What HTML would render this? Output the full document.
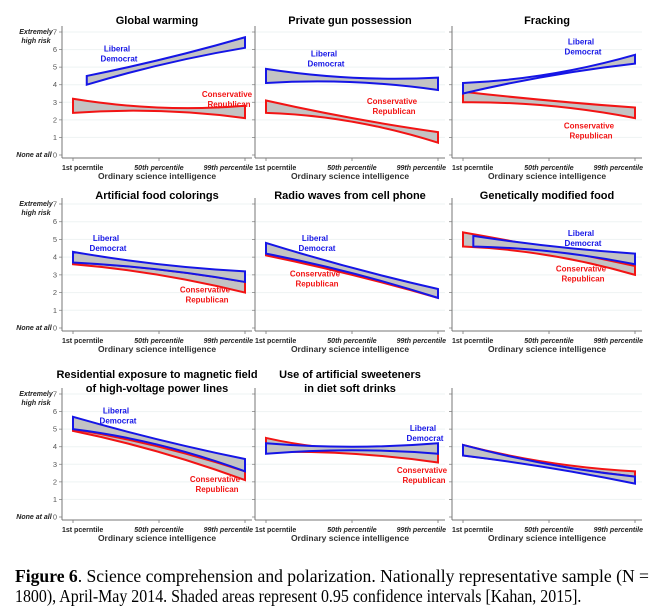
<!DOCTYPE html>
<html><head><meta charset="utf-8"><style>
html,body{margin:0;padding:0;background:#fff;}
body{width:659px;height:615px;overflow:hidden;position:relative;}
svg{position:absolute;left:0;top:0;}
.cap{position:absolute;left:15px;top:566px;width:644px;font-family:"Liberation Serif",serif;font-size:17.6px;line-height:20px;color:#000;white-space:nowrap;}
.l2{display:inline-block;transform:scaleX(0.905);transform-origin:0 50%;}
</style></head><body>
<svg id="fig" width="659" height="560" xmlns="http://www.w3.org/2000/svg" font-family="Liberation Sans, sans-serif"></svg>
<div class="cap"><b>Figure 6</b>. Science comprehension and polarization. Nationally representative sample (N =<br><span class="l2">1800), April-May 2014. Shaded areas represent 0.95 confidence intervals [Kahan, 2015].</span></div>
<script>
// Data: values at 1st, 50th, 99th percentile
const titles = [["Global warming"],["Private gun possession"],["Fracking"],["Artificial food colorings"],["Radio waves from cell phone"],["Genetically modified food"],["Residential exposure to magnetic field","of high-voltage power lines"],["Use of artificial sweeteners","in diet soft drinks"],[]];
const blueHi = [[4.5,5.5,6.7],[4.9,4.4,4.4],[4.1,4.6,5.7],[4.3,3.6,3.2],[4.8,3.4,2.2],[5.2,4.6,4.2],[5.7,4.4,3.3],[4.2,4.0,4.2],[4.1,3.0,2.3]];
const blueLo = [[4.0,5.2,6.1],[4.1,4.15,3.7],[3.5,4.5,5.2],[3.7,3.3,2.6],[4.2,3.1,1.7],[4.6,4.3,3.6],[5.0,4.1,2.6],[3.6,3.8,3.6],[3.5,2.8,1.9]];
const redHi = [[3.2,2.7,2.8],[3.1,2.1,1.3],[3.6,3.1,2.7],[3.7,3.3,2.6],[4.2,3.1,1.7],[5.4,4.5,3.5],[5.0,4.0,2.6],[4.5,3.85,4.1],[4.1,3.1,2.6]];
const redLo = [[2.4,2.5,2.1],[2.4,1.9,0.7],[3.0,2.8,2.1],[3.6,3.0,2.0],[4.1,3.0,1.7],[4.6,4.1,3.0],[4.9,3.7,2.1],[3.7,3.6,3.1],[3.5,2.9,2.3]];
const blueStart = [0.08,0,0,0,0,0.06,0,0,0];
const yTicks = [0,1,2,3,4,5,6,7];
const xTickLabels = ["1st pcerntile","50th percentile","99th percentile"];
// label placement [xOffsetFromAxis, yValue]
const libPos = [[55,5.9],[69,5.6],[129,6.3],[44,4.9],[60,4.9],[129,5.2],[54,5.9],[168,4.9],null];
const conPos = [[165,3.3],[137,2.9],[137,1.5],[143,2.0],[60,2.9],[129,3.2],[153,2.0],[167,2.5],null];

const svg=document.getElementById('fig');
const NS='http://www.w3.org/2000/svg';
const colX=[62,255,452];
const rowTop=[32,204,394], rowBot=[155,328,517];
const titleY=[[24],[199],[378,392]];
function el(t,a,p){const e=document.createElementNS(NS,t);for(const k in a)e.setAttribute(k,a[k]);(p||svg).appendChild(e);return e;}
function txt(s,a,p){const e=el('text',a,p);e.textContent=s;return e;}

for(let i=0;i<9;i++){
  const r=Math.floor(i/3), c=i%3;
  const ax=colX[c], yT=rowTop[r], yB=rowBot[r];
  const yS=v=>yB-(yB-yT)*v/7;
  const x0=ax+11, x1=ax+183;
  const xS=f=>x0+(x1-x0)*f;
  const g=el('g',{});
  
  
  yTicks.forEach(v=>{
    if(v>0){const gl=el('line',{x1:ax,x2:ax+190,y1:yS(v),y2:yS(v),stroke:'#eef3f3','stroke-width':1},g);}
    el('line',{x1:ax-3,x2:ax,y1:yS(v),y2:yS(v),stroke:'#888','stroke-width':0.8},g);
    if(c===0){const t=txt(String(v),{x:ax-5,y:yS(v)+2.5,'font-size':7.5,fill:'#555','text-anchor':'end'},g);}
  });
  const ya=el('line',{x1:ax,x2:ax,y1:yT-6,y2:yB+3,stroke:'#777','stroke-width':1},g);
  
  const xa=el('line',{x1:ax,x2:ax+190,y1:yB+3,y2:yB+3,stroke:'#777','stroke-width':1},g);
  
  [0,0.5,1].forEach((f,k)=>{
    el('line',{x1:xS(f),x2:xS(f),y1:yB+3,y2:yB+6,stroke:'#777','stroke-width':0.8},g);
    const anchor=['start','middle','end'][k];
    const tx=[x0-11,xS(0.5),x1+8][k];
    const t=txt(xTickLabels[k],{x:tx,y:yB+15,'font-size':7,'font-weight':'bold','font-style':k?'italic':'normal',fill:'#222','text-anchor':anchor},g);
    
  });
  const at=txt('Ordinary science intelligence',{x:ax+95,y:yB+24,'font-size':8.5,'font-weight':'bold',fill:'#333','text-anchor':'middle'},g);
  
  if(c===0){
    const l1=txt('Extremely',{x:36,y:yT+2,'font-size':7,'font-style':'italic','font-weight':'bold',fill:'#222','text-anchor':'middle'},g);
    
    const l2=txt('high risk',{x:36,y:yT+11,'font-size':7,'font-style':'italic','font-weight':'bold',fill:'#222','text-anchor':'middle'},g);
    
    const l3=txt('None at all',{x:34,y:yB+2,'font-size':7,'font-style':'italic','font-weight':'bold',fill:'#222','text-anchor':'middle'},g);
    
  }
  titles[i].forEach((s,k)=>{
    const t=txt(s,{x:ax+95,y:titleY[r][k],'font-size':11,'font-weight':'bold',fill:'#000','text-anchor':'middle'},g);
    
  });
  function curve(vals,fs,rev){
    const P=vals.map((v,k)=>[xS(fs[k]),yS(v)]);
    if(rev)P.reverse();
    const cx=2*P[1][0]-(P[0][0]+P[2][0])/2, cy=2*P[1][1]-(P[0][1]+P[2][1])/2;
    return {start:P[0],seg:'Q'+cx+','+cy+' '+P[2][0]+','+P[2][1]};
  }
  function band(hi,lo,col,start,name){
    const fs=[start,(start+1)/2,1];
    const a=curve(hi,fs,false), b=curve(lo,fs,true);
    const d='M'+a.start[0]+','+a.start[1]+' '+a.seg+' L'+b.start[0]+','+b.start[1]+' '+b.seg+' Z';
    const p=el('path',{d:d,fill:'#c3c3c3',stroke:col,'stroke-width':2,'stroke-linejoin':'miter'},g);
    
  }
  band(redHi[i],redLo[i],'#f21414',0,'conservative-band');
  band(blueHi[i],blueLo[i],'#1515e6',blueStart[i],'liberal-band');
  if(libPos[i]){
    const [lx,lv]=libPos[i];
    const a=txt('Liberal',{x:ax+lx,y:yS(lv),'font-size':8,'font-weight':'bold',fill:'#1515e6','text-anchor':'middle'},g);
    
    const b=txt('Democrat',{x:ax+lx+2,y:yS(lv)+10,'font-size':8,'font-weight':'bold',fill:'#1515e6','text-anchor':'middle'},g);
    
  }
  if(conPos[i]){
    const [cx,cv]=conPos[i];
    const a=txt('Conservative',{x:ax+cx,y:yS(cv),'font-size':8,'font-weight':'bold',fill:'#f21414','text-anchor':'middle'},g);
    
    const b=txt('Republican',{x:ax+cx+2,y:yS(cv)+10,'font-size':8,'font-weight':'bold',fill:'#f21414','text-anchor':'middle'},g);
    
  }
}
</script>
</body></html>
